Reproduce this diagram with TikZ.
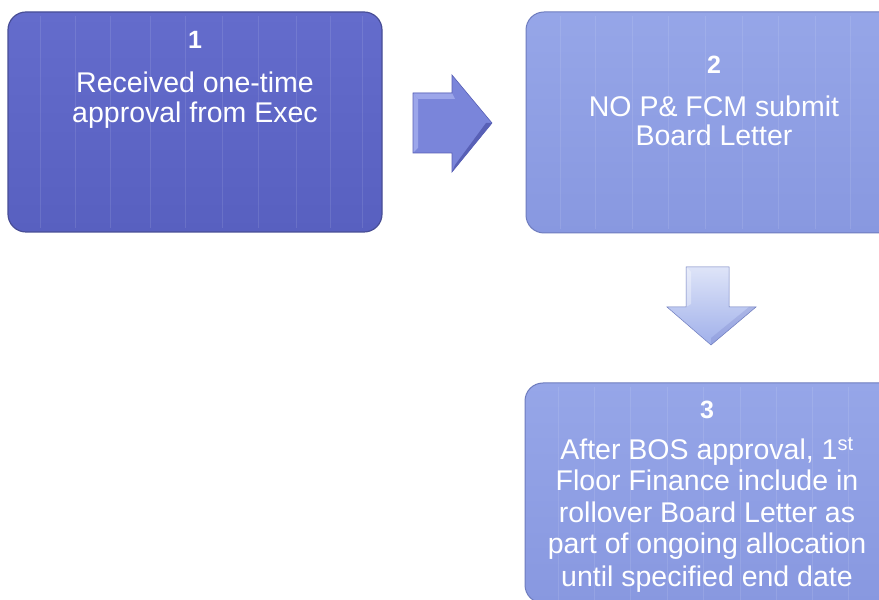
\documentclass[tikz,border=0pt]{standalone}
\usepackage{fontspec}
\setmainfont{Liberation Sans}
\begin{document}
\begin{tikzpicture}[x=1pt,y=1pt,
  boxa/.style={rounded corners=18pt, draw=boxaedge, line width=1.2pt, top color=boxatop, bottom color=boxabot},
  boxb/.style={rounded corners=18pt, draw=boxbedge, line width=1pt, top color=boxbtop, bottom color=boxbbot},
  numtxt/.style={text=white, font=\fontsize{25}{25}\selectfont\bfseries, anchor=base, inner sep=0pt},
  linetxt/.style={text=white, font=\fontsize{28.5}{30}\selectfont, anchor=base, inner sep=0pt},
  stripe/.style={white, opacity=0.10, line width=0.8pt}
]
\definecolor{boxatop}{RGB}{100,108,204}
\definecolor{boxabot}{RGB}{88,96,192}
\definecolor{boxaedge}{RGB}{72,78,150}
\definecolor{boxbtop}{RGB}{150,166,232}
\definecolor{boxbbot}{RGB}{136,152,224}
\definecolor{boxbedge}{RGB}{110,124,190}
\definecolor{arrmain}{RGB}{122,133,218}
\definecolor{arrlight}{RGB}{156,166,234}
\definecolor{arrdark}{RGB}{88,96,182}
\definecolor{darrtop}{RGB}{222,228,248}
\definecolor{darrbot}{RGB}{160,176,234}
\useasboundingbox (0,0) rectangle (879,600);
\clip (0,0) rectangle (879,600);
\fill[white] (0,0) rectangle (879,600);

% boxes
\path[boxa] (8,368) rectangle (382,588);
\node[inner sep=0pt, minimum width=374pt, minimum height=220pt] (box1) at (195,478) {};
\path[boxb] (526,367) rectangle (900,588);
\node[inner sep=0pt, minimum width=374pt, minimum height=221pt] (box2) at (713,477.5) {};
\path[boxb] (525,-3) rectangle (899,217);
\node[inner sep=0pt, minimum width=374pt, minimum height=220pt] (box3) at (712,107) {};

% faint vertical stripes
\foreach \x in {40,75,110,150,185,222,258,296,330,362} {\draw[stripe] (\x,372) -- (\x,584);}
\foreach \x in {560,595,632,668,705,742,778,815,850} {\draw[stripe] (\x,371) -- (\x,584);}
\foreach \x in {558,594,630,667,703,740,776,812,848} {\draw[stripe] (\x,0) -- (\x,213);}

% right arrow
\coordinate (ra1) at (413,507);
\coordinate (ra2) at (452,507);
\coordinate (ra3) at (452,525);
\coordinate (ra4) at (492,477);
\coordinate (ra5) at (452,428);
\coordinate (ra6) at (452,447);
\coordinate (ra7) at (413,447);
\fill[arrmain] (ra1) -- (ra2) -- (ra3) -- (ra4) -- (ra5) -- (ra6) -- (ra7) -- cycle;
\fill[arrlight] (ra1) -- (ra2) -- (455,501) -- (418,501) -- cycle;
\fill[arrlight] (ra1) -- (418,501) -- (418,452) -- (ra7) -- cycle;
\fill[arrdark] (ra4) -- (ra5) -- (455,435) -- (486,477) -- cycle;
\draw[arrdark, line width=0.6pt] (ra1) -- (ra2) -- (ra3) -- (ra4) -- (ra5) -- (ra6) -- (ra7) -- cycle;

% down arrow
\coordinate (da1) at (686,333);
\coordinate (da2) at (729,333);
\coordinate (da3) at (729,293);
\coordinate (da4) at (756,293);
\coordinate (da5) at (711,255);
\coordinate (da6) at (667,293);
\coordinate (da7) at (686,293);
\shade[top color=darrtop, bottom color=darrbot] (da1) -- (da2) -- (da3) -- (da4) -- (da5) -- (da6) -- (da7) -- cycle;
\fill[white, opacity=0.35] (da1) -- (691,328) -- (691,296) -- (da7) -- cycle;
\fill[arrdark, opacity=0.18] (da4) -- (da5) -- (711,262) -- (749,293) -- cycle;
\draw[boxbedge, line width=0.5pt] (da1) -- (da2) -- (da3) -- (da4) -- (da5) -- (da6) -- (da7) -- cycle;

% texts box 1
\node[numtxt] (n1) at (195,551) {1};
\node[linetxt] (t1a) at (195,507) {Received one-time};
\node[linetxt] (t1b) at (195,477) {approval from Exec};
% texts box 2
\node[numtxt] (n2) at (714,526) {2};
\node[linetxt] (t2a) at (714,483) {NO P\& FCM submit};
\node[linetxt] (t2b) at (714,454) {Board Letter};
% texts box 3
\node[numtxt] (n3) at (707,181) {3};
\node[linetxt] (t3a) at (707,140) {After BOS approval, 1\textsuperscript{st}};
\node[linetxt] (t3b) at (707,109) {Floor Finance include in};
\node[linetxt] (t3c) at (707,77) {rollover Board Letter as};
\node[linetxt] (t3d) at (707,46) {part of ongoing allocation};
\node[linetxt] (t3e) at (707,13) {until specified end date};
\end{tikzpicture}
\end{document}
